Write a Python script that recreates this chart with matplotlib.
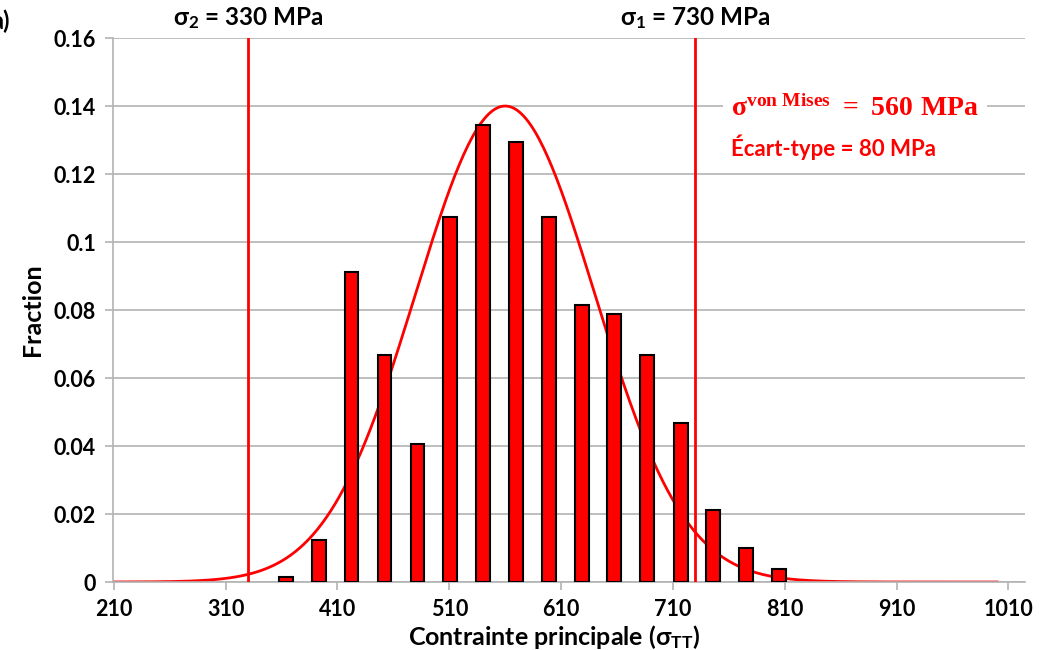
import numpy as np
import matplotlib
matplotlib.use("Agg")
import matplotlib.pyplot as plt
from matplotlib.ticker import FormatStrFormatter

plt.rcParams['font.family'] = ['Lato', 'DejaVu Sans']
plt.rcParams['font.weight'] = 'bold'
plt.rcParams['mathtext.fontset'] = 'custom'
plt.rcParams['mathtext.rm'] = 'Lato:bold'
plt.rcParams['mathtext.bf'] = 'Liberation Serif:bold'
plt.rcParams['mathtext.it'] = 'Lato:bold'

# histogram of principal stress
centres = [364, 393.5, 422.5, 452, 481.5, 511, 540.5, 570, 599.5, 628.5,
           657.5, 687, 717, 746, 775.5, 805]
fraction = [0.0016, 0.0125, 0.0912, 0.0667, 0.0406, 0.1073, 0.1344, 0.1294,
            0.1073, 0.0814, 0.0789, 0.0667, 0.0469, 0.0212, 0.0100, 0.0037]

# normal fit (von Mises mean, standard deviation)
mu = 560
sd = 80
peak = 0.14
x_fit = np.linspace(210, 1000, 400)
y_fit = peak * np.exp(-0.5 * ((x_fit - mu) / sd) ** 2)

sigma2 = 330
sigma1 = 730
xticks = [210, 310, 410, 510, 610, 710, 810, 910, 1010]
yticks = [0, 0.02, 0.04, 0.06, 0.08, 0.1, 0.12, 0.14, 0.16]

red = "#ff0000"
grey = "#b3b3b3"

fig = plt.figure(figsize=(10.48, 6.5), dpi=100)
ax = fig.add_axes([0.1075, 0.1046, 0.8707, 0.8369])

ax.plot(x_fit, y_fit, color=red, lw=2, zorder=2)
ax.bar(centres, fraction, width=12.3, color=red, edgecolor="black",
       linewidth=1.5, zorder=3)
ax.axvline(sigma2, color=red, lw=2, zorder=4)
ax.axvline(sigma1, color=red, lw=2, zorder=4)

ax.set_xlim(209, 1025)
ax.set_ylim(0, 0.16)
ax.set_xticks(xticks)
ax.set_yticks(yticks)
ax.yaxis.set_major_formatter(FormatStrFormatter('%g'))
ax.grid(axis='y', color=grey, lw=1.2, zorder=0)
ax.set_axisbelow(True)
for s in ['top', 'right']:
    ax.spines[s].set_visible(False)
for s in ['left', 'bottom']:
    ax.spines[s].set_color(grey)
    ax.spines[s].set_linewidth(1.2)
ax.tick_params(axis='both', direction='out', length=6, width=1.2, color=grey,
               labelsize=15.5, pad=6)
for lab in ax.get_xticklabels() + ax.get_yticklabels():
    lab.set_fontweight('bold')

ax.set_ylabel("Fraction", fontsize=18, fontweight='bold')
ax.yaxis.set_label_coords(-0.075, 0.5)
ax.set_xlabel(r"Contrainte principale (σ$_\mathrm{TT}$)", fontsize=18,
              fontweight='bold')
ax.xaxis.set_label_coords(0.484, -0.075)

ax.text(sigma2, 1.012, r"σ$_2$ = 330 MPa", transform=ax.get_xaxis_transform(),
        ha='center', va='bottom', fontsize=17.5, fontweight='bold')
ax.text(sigma1, 1.012, r"σ$_1$ = 730 MPa", transform=ax.get_xaxis_transform(),
        ha='center', va='bottom', fontsize=17.5, fontweight='bold')

ax.text(0.678, 0.872, r"$\mathbf{\sigma^{von\ Mises}\ =\ 560\ MPa}$",
        transform=ax.transAxes, ha='left', va='center', fontsize=20,
        color=red, zorder=6,
        bbox=dict(boxstyle='square,pad=0.3', fc='white', ec='none'))
ax.text(0.678, 0.8, "Écart-type = 80 MPa", transform=ax.transAxes,
        ha='left', va='center', fontsize=16, fontweight='bold', color=red,
        zorder=6)

fig.text(-0.008, 0.968, "a)", ha='left', va='center', fontsize=17,
         fontweight='bold')

fig.savefig("out.png", dpi=100)
